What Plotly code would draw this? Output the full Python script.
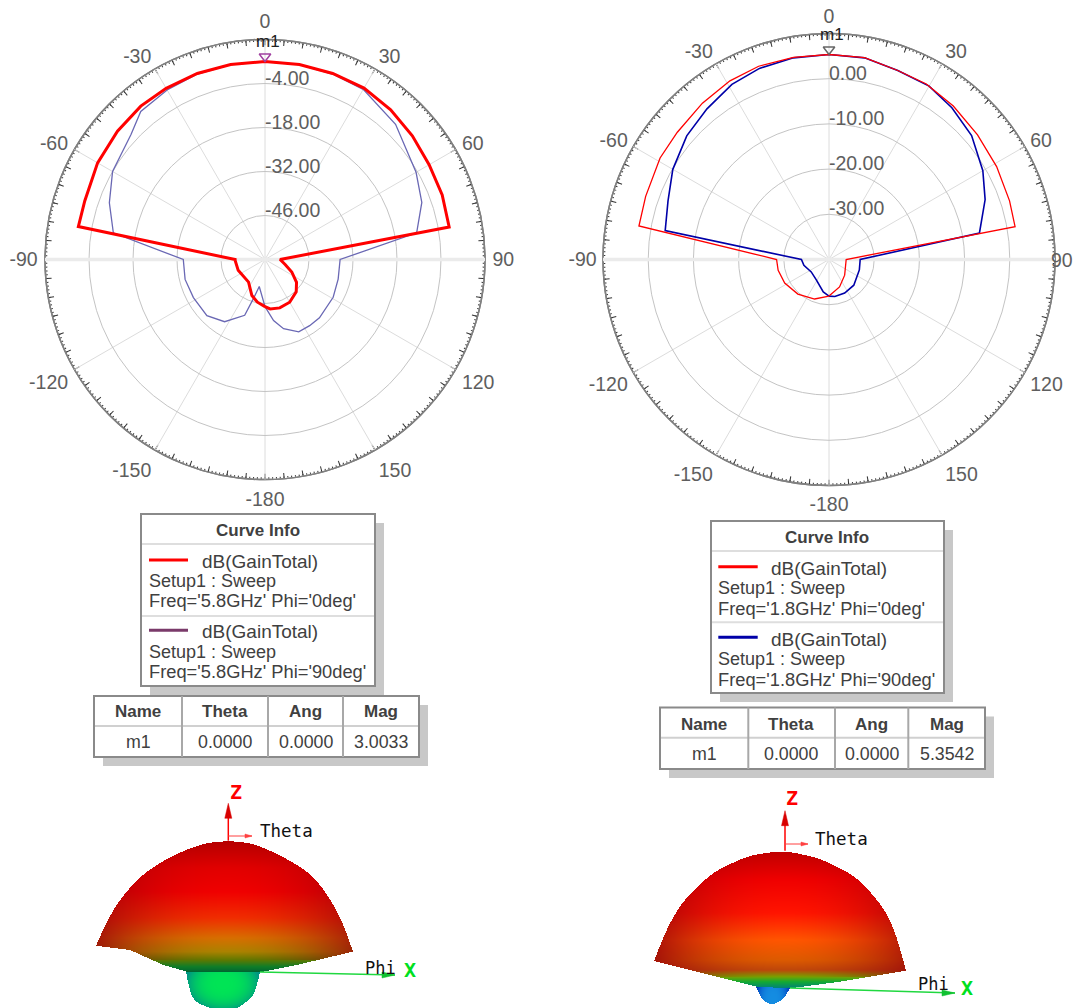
import numpy as np
import plotly.graph_objects as go

W, H = 1075, 1008

# ---------------- data ----------------
angle_vals = [0, 30, 60, 90, 120, 150, 180, 210, 240, 270, 300, 330]
angle_text = ["0", "30", "60", "90", "120", "150", "-180", "-150", "-120", "-90", "-60", "-30"]
right_angle_text = ["0", "30", "60", "", "120", "150", "-180", "-150", "-120", "-90", "-60", "-30"]

left_ring_vals = [-46, -32, -18, -4]
left_ring_text = ["-46.00", "-32.00", "-18.00", "-4.00"]
right_ring_vals = [-30, -20, -10, 0]
right_ring_text = ["-30.00", "-20.00", "-10.00", "0.00"]

left_phi0_theta = [-180, -170, -160, -144, -112, -92, -90, -80, -72, -60, -49, -39, -30, -20, -10, 0, 10, 20, 30, 40, 50, 60, 70, 80, 90, 104, 115, 126, 136, 150, 163, 174, 180]
left_phi0_gain = [-45.0, -46.2, -47.8, -51.1, -50.8, -50.5, -50.5, 0.3, 0.3, 1.5, 2.2, 2.8, 2.9, 3.0, 3.0, 3.0, 3.0, 3.0, 3.0, 2.2, 1.2, 0.3, 0.0, -0.5, -55.2, -53.4, -50.6, -47.6, -45.7, -44.3, -43.9, -44.2, -45.0]

left_phi90_theta = [-180, -168, -163.5, -160, -147, -134, -118, -104, -90, -80, -70, -60, -47, -40, -30, -20, -10, 0, 10, 20, 30, 44, 60, 70, 80, 90, 105, 119, 137, 146, 155, 165, 172, 180]
left_phi90_gain = [-45.0, -51.2, -47.0, -41.1, -36.4, -34.3, -34.2, -33.8, -34.0, -11.0, -7.3, -4.0, -1.7, 1.5, 2.3, 2.8, 3.0, 3.0, 3.0, 2.8, 2.5, -0.2, -4.5, -6.9, -11.0, -36.1, -35.9, -35.2, -34.6, -34.6, -34.6, -37.2, -40.4, -45.0]

right_phi0_theta = [-180, -160, -138, -118, -102, -90, -80, -71, -59, -50, -39, -29, -20, -10, 0, 10, 20, 29, 39, 50, 61, 72, 80, 90, 135, 159, 180]
right_phi0_gain = [-31.9, -30.7, -29.7, -28.9, -28.5, -28.4, 2.7, 2.9, 3.6, 3.8, 4.5, 5.2, 5.5, 5.4, 5.35, 5.35, 4.5, 4.4, 3.7, 2.9, 2.4, 2.0, 1.8, -36.2, -35.1, -33.5, -31.9]

right_phi90_theta = [-180, -170, -148, -125, -103, -90, -80, -70, -60, -49, -39, -29, -20, -10, 0, 10, 20, 30, 39, 49, 60, 69, 80, 90, 109, 136, 155, 171, 180]
right_phi90_gain = [-31.9, -32.7, -34.7, -35.2, -34.3, -33.9, -3.2, -2.1, -0.1, 1.7, 2.9, 4.3, 5.0, 5.3, 5.35, 5.3, 4.5, 4.3, 3.2, 1.8, -0.7, -3.0, -6.2, -33.1, -32.9, -32.1, -31.8, -31.7, -31.9]

table_header = ["Name", "Theta", "Ang", "Mag"]
left_marker_row = ["m1", "0.0000", "0.0000", "3.0033"]
right_marker_row = ["m1", "0.0000", "0.0000", "5.3542"]
left_freq = "5.8GHz"
right_freq = "1.8GHz"
left_m1 = 3.0033
right_m1 = 5.3542

# silhouettes of the two 3D gain pictures
left_top_x = [96, 105, 120, 143.3, 173.3, 203.3, 228.3, 253.3, 283.3, 313.3, 333.3, 346.7, 352.7]
left_top_y = [945.7, 923.3, 898.3, 873.3, 855, 843.3, 840.7, 843.3, 856.7, 875, 903.3, 928.3, 951.7]
left_bot_x = [96, 130, 163.3, 186.7, 260, 296.7, 352.7]
left_bot_y = [945.7, 950, 965, 971.7, 972.3, 965, 951.7]
left_lobe_x = [186, 188.3, 196.7, 213.3, 236.7, 255, 260]
left_lobe_y = [971.7, 991.7, 1003, 1009, 1009, 995, 972.3]
left_band_y = [840.7, 868, 891.7, 918, 938, 951.7, 960, 966.7, 972]
left_band_rgb = [(180, 0, 0), (225, 0, 0), (240, 0, 0), (240, 45, 0), (215, 110, 0), (170, 130, 0), (95, 120, 0), (15, 125, 40), (0, 100, 50)]

right_top_x = [654, 666.7, 683.3, 713.3, 750, 785, 820, 856.7, 883.3, 898.3, 905.7]
right_top_y = [961, 926.7, 900, 871.7, 855, 850.7, 858.3, 876.7, 906.7, 933.3, 970.7]
right_bot_x = [654, 693.3, 756.7, 790, 840, 905.7]
right_bot_y = [961, 970.7, 986.7, 988.3, 981.7, 970.7]
right_lobe_x = [756, 761.7, 771.7, 783.3, 790]
right_lobe_y = [987, 1000, 1005, 1000, 988]
right_band_y = [850.7, 880, 913, 940, 960, 970, 976.7, 981.7, 988]
right_band_rgb = [(190, 0, 0), (240, 0, 0), (255, 20, 0), (255, 85, 0), (220, 90, 0), (190, 70, 10), (120, 160, 0), (20, 170, 50), (0, 130, 120)]


def smooth_edge(xs, ys, win):
    gx = np.arange(min(xs), max(xs) + 1.0)
    gy = np.interp(gx, xs, ys)
    m = 2 * win
    pre = 2 * gy[0] - gy[1:m + 1][::-1]
    post = 2 * gy[-1] - gy[-m - 1:-1][::-1]
    full = np.concatenate([pre, gy, post])
    for _ in range(2):
        full = np.convolve(full, np.ones(2 * win + 1) / (2 * win + 1), mode="valid")
    return gx, full


def dome(top_x, top_y, bot_x, bot_y, lobe_x, lobe_y, band_y, band_rgb, lobe_c, lobe_e, cx):
    x0, x1 = int(min(top_x)) - 1, int(max(top_x)) + 2
    y0, y1 = int(min(top_y)) - 1, H
    xx, yy = np.meshgrid(np.arange(x0, x1) + 0.5, np.arange(y0, y1) + 0.5)
    sx, sy = smooth_edge(top_x, top_y, 9)
    yt = np.interp(xx, sx, sy)
    yb = np.interp(xx, bot_x, bot_y)
    inside = (yy >= yt) & (yy <= yb) & (xx >= min(top_x)) & (xx <= max(top_x))
    lx, ly = smooth_edge(lobe_x, lobe_y, 3)
    yl = np.interp(xx, lx, ly)
    lobe = (yy > yb) & (yy <= yl) & (xx >= min(lobe_x)) & (xx <= max(lobe_x))
    rgb = np.zeros(xx.shape + (3,))
    band = np.array(band_rgb, dtype=float)
    for c in range(3):
        rgb[..., c] = np.interp(yy, band_y, band[:, c])
    half = (max(top_x) - min(top_x)) / 2
    d = np.clip(np.abs(xx - cx) / half, 0, 1)
    k = 0.75 * d ** 2
    dark = np.array([150.0, 0.0, 10.0])
    mix = np.where(yy < band_y[6], k, 0.0)[..., None]
    rgb = rgb * (1 - mix) + dark * mix
    lcx = (min(lobe_x) + max(lobe_x)) / 2
    lhw = (max(lobe_x) - min(lobe_x)) / 2
    lr = np.clip(np.hypot((xx - lcx) / lhw, (yy - lobe_y[0] - 12) / 28), 0, 1)[..., None] ** 3
    lobe_rgb = np.array(lobe_c, float) * (1 - lr) + np.array(lobe_e, float) * lr
    rgb = np.where(lobe[..., None], lobe_rgb, rgb)
    a = (inside | lobe).astype(float)
    out = np.concatenate([np.round(rgb), a[..., None]], axis=2)
    return go.Image(z=out.tolist(), colormodel="rgba", x0=x0 + 0.5, y0=y0 + 0.5, dx=1, dy=1,
                    xaxis="x", yaxis="y", hoverinfo="skip")


fig = go.Figure()

TEXT = "#5e5e5e"
DARK = "#404040"
FONT = "Liberation Sans, Arial, sans-serif"
MONO = "DejaVu Sans Mono, monospace"

charts = [
    dict(cx=265, cy=259.5, R=220, rng=[-60, 10], rings=left_ring_vals, rtext=left_ring_text, nudge=1.9, tlen=3,
         atext=angle_text,
         curves=[(left_phi90_theta, left_phi90_gain, "#6a68b4", 1.3, "Phi=90deg"),
                 (left_phi0_theta, left_phi0_gain, "#ff0000", 3, "Phi=0deg")],
         m1=left_m1, lift=1.6, mcolor="#a040a0"),
    dict(cx=829, cy=259.5, R=226, rng=[-40, 10], rings=right_ring_vals, rtext=right_ring_text, nudge=1.3, tlen=2,
         atext=right_angle_text,
         curves=[(right_phi90_theta, right_phi90_gain, "#0000a8", 1.6, "Phi=90deg"),
                 (right_phi0_theta, right_phi0_gain, "#ff0000", 1.3, "Phi=0deg")],
         m1=right_m1, lift=1.1, mcolor="#666666"),
]

layout_polars = {}
n = 0
for ch in charts:
    dom = dict(x=[(ch["cx"] - ch["R"]) / W, (ch["cx"] + ch["R"]) / W],
               y=[1 - (ch["cy"] + ch["R"]) / H, 1 - (ch["cy"] - ch["R"]) / H])
    radial = dict(range=ch["rng"], tickvals=ch["rings"], showticklabels=False, ticks="",
                  showline=False, gridcolor="#c4c4c4", gridwidth=1.4)
    # ticks on the rim: 1 deg dots, 5 deg marks, then labels + grid on the top polar
    for kind, (dt, ln, wd) in enumerate([(1, 1.5, 0.9), (5, 5, 1.3)]):
        n += 1
        name = "polar" if n == 1 else f"polar{n}"
        layout_polars[name] = dict(
            domain=dom, bgcolor="rgba(0,0,0,0)",
            radialaxis=dict(range=ch["rng"], visible=False),
            angularaxis=dict(direction="clockwise", rotation=90, tickmode="linear", tick0=0, dtick=dt,
                             ticks="inside", ticklen=ln, tickwidth=wd, tickcolor="#333333",
                             showticklabels=False, showgrid=False, linecolor="#808080", linewidth=1.5))
        fig.add_trace(go.Scatterpolar(r=[ch["rng"][0]], theta=[0], mode="lines", subplot=name,
                                      showlegend=False, hoverinfo="skip"))
    n += 1
    name = f"polar{n}"
    layout_polars[name] = dict(
        domain=dom, bgcolor="rgba(0,0,0,0)", radialaxis=radial,
        angularaxis=dict(direction="clockwise", rotation=90, tickmode="array", tickvals=angle_vals,
                         ticktext=ch["atext"], ticks="outside", ticklen=ch["tlen"], tickcolor="rgba(0,0,0,0)",
                         tickfont=dict(family=FONT, size=19.5, color=TEXT), gridcolor="#dcdcdc", gridwidth=1.4,
                         showline=False))
    # the broad light band along -90 / 90
    fig.add_trace(go.Scatterpolar(r=[ch["rng"][1], ch["rng"][0], ch["rng"][1]], theta=[90, 90, -90], mode="lines",
                                  line=dict(color="#ebebeb", width=3.5), subplot=name, showlegend=False,
                                  hoverinfo="skip"))
    for th, g, col, wd, label in ch["curves"]:
        fig.add_trace(go.Scatterpolar(r=g, theta=th, mode="lines", line=dict(color=col, width=wd),
                                      subplot=name, name=label, showlegend=False))
    fig.add_trace(go.Scatterpolar(r=[v - ch["nudge"] for v in ch["rings"]], theta=[0] * len(ch["rings"]),
                                  mode="text", text=ch["rtext"],
                                  textposition="top right", textfont=dict(family=FONT, size=19.5, color=TEXT),
                                  subplot=name, showlegend=False, hoverinfo="skip", cliponaxis=False))
    fig.add_trace(go.Scatterpolar(r=[ch["m1"] + ch["lift"]], theta=[0], mode="markers",
                                  marker=dict(symbol="triangle-down-open", size=10, color=ch["mcolor"],
                                              line=dict(width=1.5, color=ch["mcolor"])),
                                  subplot=name, name="m1", showlegend=False))

fig.add_trace(dome(left_top_x, left_top_y, left_bot_x, left_bot_y, left_lobe_x, left_lobe_y,
                   left_band_y, left_band_rgb, (0, 228, 85), (0, 150, 130), 228))
fig.add_trace(dome(right_top_x, right_top_y, right_bot_x, right_bot_y, right_lobe_x, right_lobe_y,
                   right_band_y, right_band_rgb, (20, 140, 225), (0, 60, 190), 785))

shapes, notes = [], []


def rect(x0, y0, x1, y1, fill, line=None, lw=0):
    shapes.append(dict(type="rect", xref="x", yref="y", x0=x0, y0=y0, x1=x1, y1=y1, fillcolor=fill,
                       line=dict(color=line or "rgba(0,0,0,0)", width=lw)))


def seg(x0, y0, x1, y1, col, lw):
    shapes.append(dict(type="line", xref="x", yref="y", x0=x0, y0=y0, x1=x1, y1=y1, line=dict(color=col, width=lw)))


def tri(p, col):
    path = "M " + " L ".join(f"{a},{b}" for a, b in p) + " Z"
    shapes.append(dict(type="path", xref="x", yref="y", path=path, fillcolor=col, line=dict(color=col, width=0.5)))


def note(x, y, s, size=15, col=DARK, anchor="left", fam=FONT):
    notes.append(dict(xref="x", yref="y", x=x - 2 if anchor == "left" else x, y=y, text=s, showarrow=False,
                      xanchor=anchor, yanchor="middle", font=dict(family=fam, size=size, color=col)))


def curve_info(x0, y0, x1, y1, div1, div2, tx, lx0, lx1, ty, ly, freq, col2, cc):
    rect(x0 + 9, y0 + 9, x1 + 9, y1 + 9, "#c8c8c8")
    rect(x0, y0, x1, y1, "#ffffff", "#8a8a8a", 2)
    seg(x0 + 1, div1, x1 - 1, div1, "#dedede", 2)
    seg(x0 + 1, div2, x1 - 1, div2, "#dedede", 2)
    note(cc, ty[0], "<b>Curve Info</b>", 17, DARK, "center")
    seg(lx0, ly[0], lx1, ly[0], "#ff0000", 3)
    seg(lx0, ly[1], lx1, ly[1], col2, 3)
    note(tx, ty[1], "dB(GainTotal)", 19)
    note(lx0, ty[2], "Setup1 : Sweep", 18)
    note(lx0, ty[3], f"Freq='{freq}' Phi='0deg'", 18.3)
    note(tx, ty[4], "dB(GainTotal)", 19)
    note(lx0, ty[5], "Setup1 : Sweep", 18)
    note(lx0, ty[6], f"Freq='{freq}' Phi='90deg'", 18.3)


def marker_table(x0, y0, x1, y1, ydiv, cols, centers, ys, row):
    rect(x0 + 9, y0 + 9, x1 + 9, y1 + 9, "#c8c8c8")
    rect(x0, y0, x1, y1, "#ffffff", "#8a8a8a", 2)
    seg(x0 + 1, ydiv, x1 - 1, ydiv, "#d0d0d0", 2)
    for c in cols:
        seg(c, y0, c, y1, "#a8a8a8", 2)
    for c, h, v in zip(centers, table_header, row):
        note(c, ys[0], f"<b>{h}</b>", 17, DARK, "center")
        note(c, ys[1], v, 17.8, DARK, "center")


curve_info(141, 514, 375, 686, 544, 616, 201.7, 149, 188,
           [530, 561.7, 581, 600.7, 631.7, 651.7, 671], [560, 630.3], left_freq, "#7a3a6a", 257.7)
curve_info(711, 521, 944, 693, 551, 622.3, 770.7, 718.3, 757.7,
           [537.3, 568.3, 588.3, 608.3, 639, 659, 679], [566.7, 637.3], right_freq, "#0000a8", 826.7)
marker_table(94, 696, 419, 757, 726, [182, 268, 343], [138.3, 225, 305.7, 381], [711.7, 741.7], left_marker_row)
marker_table(660, 707.5, 985, 769, 737.7, [748.3, 835, 908.3], [704.3, 791, 871.7, 946.7], [724, 753.7], right_marker_row)

note(268, 41, "m1", 17, "#222222", "center")
note(832, 34, "m1", 17, "#222222", "center")
note(1075, 260, "90", 19.5, TEXT, "right")

# axes of the 3D pictures
for zx, ztop, zbot, zlab, thx, thl, phi, xlab, gx0, gy0, gx1, gy1 in [
    (228.3, 803.3, 840.7, (235.7, 791.7), (252, 836), (260, 831), (365, 968), (410, 970), 260, 972, 395, 975),
    (785, 810.7, 850.7, (792.3, 798), (808, 844), (815, 839.3), (918, 984), (966.7, 987.7), 790, 988, 955, 993),
]:
    seg(zx, zbot, zx, ztop + 8, "#ff0000", 1.5)
    tri([(zx, ztop), (zx - 3.5, ztop + 15), (zx + 3.5, ztop + 15)], "#d80000")
    seg(zx, thx[1], thx[0], thx[1], "#ff4040", 1)
    tri([(thx[0], thx[1]), (thx[0] - 7, thx[1] - 2), (thx[0] - 7, thx[1] + 2)], "#ff4040")
    seg(gx0, gy0, gx1, gy1, "#20d840", 1.6)
    tri([(gx1, gy1), (gx1 - 13, gy1 - 3), (gx1 - 13, gy1 + 3)], "#10c030")
    note(zlab[0], zlab[1], "<b>Z</b>", 20, "#ff0000", "center", MONO)
    note(thl[0], thl[1], "Theta", 17.5, "#111111", "left", MONO)
    note(phi[0], phi[1], "Phi", 17, "#111111", "left", MONO)
    note(xlab[0], xlab[1], "<b>X</b>", 20, "#00e020", "center", MONO)

fig.update_layout(
    width=W, height=H, margin=dict(l=0, r=0, t=0, b=0), paper_bgcolor="#ffffff", plot_bgcolor="rgba(0,0,0,0)",
    showlegend=False, shapes=shapes, annotations=notes,
    xaxis=dict(range=[0, W], domain=[0, 1], visible=False, fixedrange=True, constrain="range"),
    yaxis=dict(range=[H, 0], domain=[0, 1], visible=False, fixedrange=True, constrain="range"),
    **layout_polars,
)

fig.write_html("out.html", config={"displayModeBar": False},
               post_script="document.body.style.margin='0';document.documentElement.style.overflow='hidden';")
